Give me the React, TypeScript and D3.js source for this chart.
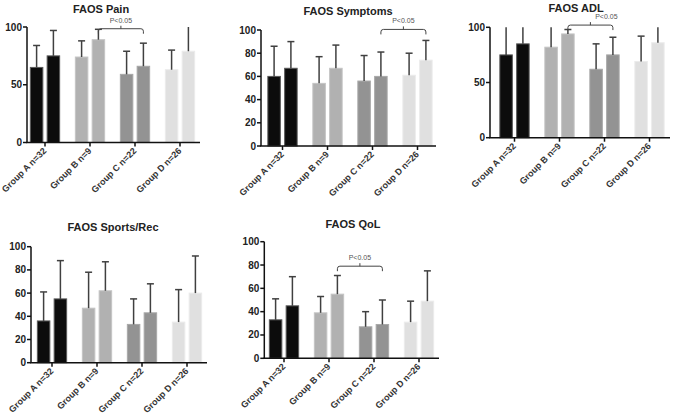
import React from "react";
import * as d3 from "d3";

const groups = ["Group A n=32", "Group B n=9", "Group C n=22", "Group D n=26"];

const painMean = [65, 75, 74, 89, 59, 66, 63, 79];
const painTop = [84, 97, 88, 98, 79, 86, 80, 106];
const symptomsMean = [60, 67, 54, 67, 56, 60, 61, 74];
const symptomsTop = [86, 90, 77, 87, 78, 81, 80, 91];
const adlMean = [75, 85, 82, 94, 62, 75, 69, 86];
const adlTop = [108, 110, 104, 98, 85, 91, 92, 108];
const sportsMean = [36, 55, 47, 62, 33, 43, 35, 60];
const sportsTop = [61, 88, 78, 87, 55, 68, 63, 92];
const qolMean = [33, 45, 39, 55, 27, 29, 31, 49];
const qolTop = [51, 70, 53, 71, 40, 50, 49, 75];

const ticks50 = [0, 50, 100];
const ticks20 = [0, 20, 40, 60, 80, 100];

const groupColors = ["#0c0c0c", "#b1b1b1", "#939393", "#e0e0e0"];
const groupStrokes = ["#5a5a5a", "#c4c4c4", "#a8a8a8", "#ebebeb"];

type Panel = {
  title: string;
  mean: number[];
  top: number[];
  ticks: number[];
  axisX: number;
  y0: number;
  y100: number;
  firstCenter: number;
  xEnd: number;
  titleX: number;
  titleY: number;
  bracket?: { from: number; to: number; level: number; labelDx: number };
};

const panels: Panel[] = [
  { title: "FAOS Pain", mean: painMean, top: painTop, ticks: ticks50, axisX: 27, y0: 142.5, y100: 27, firstCenter: 45, xEnd: 200, titleX: 101, titleY: 13, bracket: { from: 3, to: 5, level: 98.5, labelDx: 0 } },
  { title: "FAOS Symptoms", mean: symptomsMean, top: symptomsTop, ticks: ticks20, axisX: 261, y0: 146, y100: 30, firstCenter: 282.5, xEnd: 436, titleX: 348, titleY: 15, bracket: { from: 5, to: 7, level: 100.5, labelDx: 0 } },
  { title: "FAOS ADL", mean: adlMean, top: adlTop, ticks: ticks50, axisX: 490, y0: 137.7, y100: 27.3, firstCenter: 514.5, xEnd: 670, titleX: 576, titleY: 12, bracket: { from: 3, to: 5, level: 102, labelDx: 16 } },
  { title: "FAOS Sports/Rec", mean: sportsMean, top: sportsTop, ticks: ticks20, axisX: 31, y0: 362.7, y100: 246.7, firstCenter: 52, xEnd: 207, titleX: 113, titleY: 231 },
  { title: "FAOS QoL", mean: qolMean, top: qolTop, ticks: ticks20, axisX: 264.3, y0: 358.3, y100: 241.7, firstCenter: 284, xEnd: 439, titleX: 353, titleY: 228, bracket: { from: 3, to: 5, level: 79, labelDx: 0 } },
];

const FONT = "'Liberation Sans', Arial, Helvetica, sans-serif";
const BAR_W = 12.5;
const BAR_OFF = 8.4;
const CAP = 7;

function PanelView({ p }: { p: Panel }) {
  const y = d3.scaleLinear().domain([0, 100]).range([p.y0, p.y100]);
  const gx = d3.scaleLinear().domain([0, groups.length - 1]).range([p.firstCenter, p.firstCenter + 135]);
  const barX = (i: number) => gx(Math.floor(i / 2)) + (i % 2 === 0 ? -BAR_OFF : BAR_OFF);
  const bars = p.mean.map((m, i) => ({ i, m, t: p.top[i], g: Math.floor(i / 2), cx: barX(i) }));
  let bracket: React.ReactNode = null;
  if (p.bracket) {
    const b = p.bracket;
    const x1 = barX(b.from);
    const x2 = barX(b.to);
    const by = y(b.level);
    const mid = (x1 + x2) / 2;
    const r = 2.5;
    const path = `M${x1},${by + 5} L${x1},${by + r} Q${x1},${by} ${x1 + r},${by} L${x2 - r},${by} Q${x2},${by} ${x2},${by + r} L${x2},${by + 5} M${mid},${by} L${mid},${by - 3}`;
    bracket = (
      <g>
        <path d={path} fill="none" stroke="#444" strokeWidth={1} />
        <text x={mid + b.labelDx} y={by - 6} textAnchor="middle" fontSize={7} fill="#555" fontFamily={FONT}>P&lt;0.05</text>
      </g>
    );
  }
  return (
    <g>
      <text x={p.titleX} y={p.titleY} textAnchor="middle" fontSize={11} fontWeight="bold" fill="#222" fontFamily={FONT}>{p.title}</text>
      {bars.map((b) => (
        <rect key={"r" + b.i} x={b.cx - BAR_W / 2} y={y(b.m)} width={BAR_W} height={p.y0 - y(b.m)} fill={groupColors[b.g]} stroke={groupStrokes[b.g]} strokeWidth={1} />
      ))}
      {bars.map((b) => {
        const clipped = b.t > 100;
        const ty = y(Math.min(b.t, 100));
        return (
          <g key={"e" + b.i} stroke="#404040" strokeWidth={1.5}>
            <line x1={b.cx} x2={b.cx} y1={y(b.m)} y2={ty} />
            {!clipped && <line x1={b.cx - CAP / 2} x2={b.cx + CAP / 2} y1={ty} y2={ty} />}
          </g>
        );
      })}
      <line x1={p.axisX} x2={p.axisX} y1={p.y0} y2={p.y100} stroke="#111" strokeWidth={1.5} />
      <line x1={p.axisX - 0.75} x2={p.xEnd} y1={p.y0} y2={p.y0} stroke="#111" strokeWidth={1.5} />
      {p.ticks.map((t) => (
        <g key={"t" + t}>
          <line x1={p.axisX - 4} x2={p.axisX} y1={y(t)} y2={y(t)} stroke="#111" strokeWidth={1.5} />
          <text x={p.axisX - 5} y={y(t) + 3.5} textAnchor="end" fontSize={10} fontWeight="bold" fill="#222" fontFamily={FONT}>{t}</text>
        </g>
      ))}
      {groups.map((g, gi) => {
        const cx = gx(gi);
        return (
          <g key={"g" + gi}>
            <line x1={cx} x2={cx} y1={p.y0} y2={p.y0 + 4} stroke="#111" strokeWidth={1.5} />
            <text transform={`translate(${cx + 2},${p.y0 + 9}) rotate(-45)`} textAnchor="end" fontSize={9} fontWeight="bold" fill="#333" fontFamily={FONT}>{g}</text>
          </g>
        );
      })}
      {bracket}
    </g>
  );
}

export default function App() {
  return (
    <svg width={685} height={417} style={{ position: "absolute", left: 0, top: 0, background: "#fff" }}>
      <rect width={685} height={417} fill="#fff" />
      {panels.map((p) => (
        <PanelView key={p.title} p={p} />
      ))}
    </svg>
  );
}
